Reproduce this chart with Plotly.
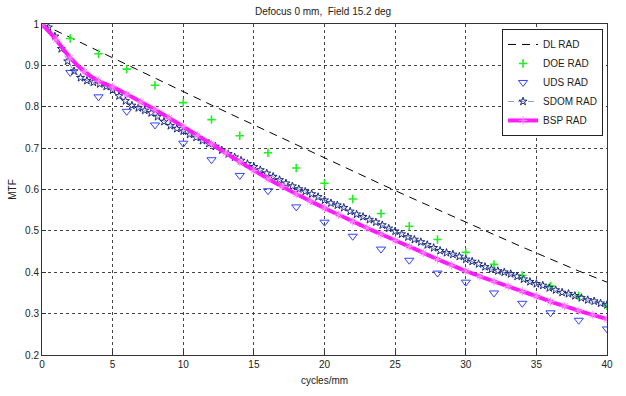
import numpy as np
import plotly.graph_objects as go

title_text = "Defocus 0 mm,  Field 15.2 deg"

# DL RAD (diffraction limit), read every 2 cycles/mm
dl_x = [0, 2, 4, 6, 8, 10, 12, 14, 16, 18, 20, 22, 24, 26, 28, 30, 32, 34, 36, 38, 40]
dl_y = [1.0, 0.967, 0.934, 0.902, 0.869, 0.836, 0.804, 0.772, 0.740, 0.708, 0.676,
        0.645, 0.613, 0.582, 0.551, 0.521, 0.491, 0.461, 0.432, 0.403, 0.376]

# DOE RAD
doe_x = [0, 2, 4, 6, 8, 10, 12, 14, 16, 18, 20, 22, 24, 26, 28, 30, 32, 34, 36, 38, 40]
doe_y = [1.0, 0.965, 0.928, 0.891, 0.852, 0.810, 0.769, 0.730, 0.689, 0.652, 0.615,
         0.577, 0.542, 0.511, 0.479, 0.448, 0.419, 0.392, 0.367, 0.343, 0.319]

# UDS RAD
uds_x = [0, 2, 4, 6, 8, 10, 12, 14, 16, 18, 20, 22, 24, 26, 28, 30, 32, 34, 36, 38, 40]
uds_y = [1.0, 0.883, 0.824, 0.789, 0.756, 0.712, 0.672, 0.634, 0.597, 0.558, 0.521,
         0.487, 0.456, 0.429, 0.398, 0.376, 0.350, 0.325, 0.302, 0.284, 0.263]

# SDOM RAD (89 samples over 0..40)
sdom_y = [1.000, 0.992, 0.970, 0.940, 0.910, 0.886, 0.870, 0.863, 0.859, 0.855,
          0.849, 0.840, 0.826, 0.814, 0.803, 0.797, 0.791, 0.785, 0.776, 0.764,
          0.754, 0.747, 0.741, 0.733, 0.726, 0.718, 0.711, 0.704, 0.695, 0.686,
          0.678, 0.670, 0.662, 0.655, 0.647, 0.639, 0.631, 0.623, 0.615, 0.608,
          0.601, 0.595, 0.589, 0.582, 0.574, 0.567, 0.562, 0.556, 0.547, 0.540,
          0.534, 0.527, 0.521, 0.514, 0.506, 0.499, 0.492, 0.485, 0.479, 0.473,
          0.466, 0.459, 0.452, 0.447, 0.443, 0.438, 0.431, 0.426, 0.420, 0.413,
          0.407, 0.403, 0.400, 0.396, 0.390, 0.383, 0.377, 0.372, 0.368, 0.362,
          0.357, 0.351, 0.348, 0.343, 0.338, 0.333, 0.330, 0.325, 0.321]
sdom_x = list(np.linspace(0, 40, len(sdom_y)))

# BSP RAD
bsp_x = list(range(0, 41))
bsp_y = [1.0, 0.962, 0.918, 0.885, 0.862, 0.848, 0.830, 0.812, 0.793, 0.773,
         0.752, 0.731, 0.710, 0.688, 0.667, 0.646, 0.626, 0.607, 0.589, 0.572,
         0.555, 0.539, 0.523, 0.507, 0.492, 0.477, 0.462, 0.447, 0.431, 0.417,
         0.403, 0.390, 0.378, 0.366, 0.354, 0.342, 0.329, 0.318, 0.307, 0.297, 0.287]

x_ticks = [0, 5, 10, 15, 20, 25, 30, 35, 40]
y_ticks = [0.2, 0.3, 0.4, 0.5, 0.6, 0.7, 0.8, 0.9, 1.0]
y_tick_labels = ["0.2", "0.3", "0.4", "0.5", "0.6", "0.7", "0.8", "0.9", "1"]

FONT = "Liberation Sans"

fig = go.Figure()
fig.add_trace(go.Scatter(x=dl_x, y=dl_y, mode="lines", name="DL RAD",
                         line=dict(color="black", width=1, dash="8px,6px")))
fig.add_trace(go.Scatter(x=doe_x, y=doe_y, mode="markers", name="DOE RAD",
                         marker=dict(symbol="cross-thin", size=6,
                                     line=dict(width=1.6, color="#22ee22"))))
fig.add_trace(go.Scatter(x=uds_x, y=uds_y, mode="markers", name="UDS RAD",
                         marker=dict(symbol="triangle-down-open", size=8,
                                     color="#3344ff", line=dict(width=1))))
fig.add_trace(go.Scatter(x=sdom_x, y=sdom_y, mode="lines+markers", name="SDOM RAD",
                         line=dict(color="#8f9cc8", width=1, dash="6px,4px"),
                         marker=dict(symbol="star-open", size=6, color="#1a2a80",
                                     line=dict(width=1))))
fig.add_trace(go.Scatter(x=bsp_x, y=bsp_y, mode="lines+markers", name="BSP RAD",
                         line=dict(color="#ff1aff", width=4, shape="spline", smoothing=0.6),
                         marker=dict(symbol="asterisk-open", size=7, color="#ff88ff",
                                     line=dict(width=1, color="#ff88ff"))))

axis_common = dict(showline=True, linecolor="#333333", linewidth=1, mirror=True,
                   showgrid=True, gridcolor="#444444", griddash="dot", gridwidth=1,
                   zeroline=False, ticks="inside", ticklen=4, tickcolor="#333333",
                   tickfont=dict(family=FONT, size=10, color="#222222"))

fig.update_layout(
    width=626, height=396,
    margin=dict(l=39, r=19, t=24, b=31),
    paper_bgcolor="white", plot_bgcolor="white",
    title=dict(text=title_text, x=0.516, xanchor="center", y=0.97, yanchor="middle",
               font=dict(family=FONT, size=10, color="#222222")),
    xaxis=dict(range=[0, 40], tickvals=x_ticks,
               title=dict(text="cycles/mm", standoff=7,
                          font=dict(family=FONT, size=10, color="#222222")),
               **axis_common),
    yaxis=dict(range=[0.2, 1.0], tickvals=y_ticks, ticktext=y_tick_labels,
               title=dict(text="MTF", standoff=6,
                          font=dict(family=FONT, size=10, color="#222222")),
               **axis_common),
    legend=dict(x=0.993, y=0.985, xanchor="right", yanchor="top",
                bgcolor="white", bordercolor="#222222", borderwidth=1,
                font=dict(family=FONT, size=10, color="#222222"),
                tracegroupgap=0, itemwidth=30),
    showlegend=True,
)

fig.write_html("out.html")
